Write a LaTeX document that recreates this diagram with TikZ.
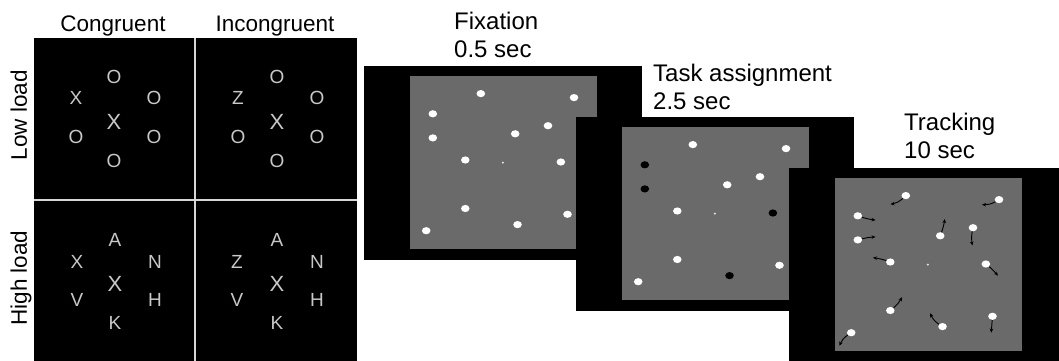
\documentclass[tikz,border=0pt]{standalone}
\usepackage{fontspec}
\setmainfont{Liberation Sans}
\usetikzlibrary{shapes.geometric,arrows.meta}
\definecolor{scrgray}{RGB}{106,106,106}
\definecolor{lettergray}{RGB}{200,200,200}
\definecolor{divgray}{RGB}{215,215,215}
\def\dotlist{1/70.8/17.6, 2/164/21.6, 3/22.8/37.8, 4/22.8/61.9, 5/138/49.7, 6/105.2/57.8, 7/55.3/84, 8/150.9/86, 9/55.3/132.5, 10/157.5/138.3, 11/107.5/148.6, 12/16.2/154.7}
\newcommand\screenbg[2]{%
  \fill[black] (#1-46,#2-10.5) rectangle (#1+231.5,#2+183.5);
  \fill[scrgray] (#1,#2) rectangle (#1+186.5,#2+173);
}
\begin{document}
\begin{tikzpicture}[x=1pt,y=-1pt,
  lbl/.style={font=\fontsize{22.5}{26}\selectfont, inner sep=0, anchor=base},
  ttl/.style={font=\fontsize{24}{27.5}\selectfont, inner sep=0, anchor=base west, align=left},
  ltr/.style={text=lettergray, font=\fontsize{19}{19}\selectfont, inner sep=0},
  ctr/.style={text=lettergray, font=\fontsize{22}{22}\selectfont, inner sep=0},
  wdot/.style={ellipse, fill=white, minimum width=8.6pt, minimum height=7.2pt, inner sep=0},
  bdot/.style={wdot, fill=black},
  fixdot/.style={circle, fill=white!80!gray, minimum size=2.2pt, inner sep=0},
  mv/.style={-{Stealth[length=4pt,width=3.6pt]}, line width=0.9pt, black},
]
\useasboundingbox (0,0) rectangle (1059,361);

% ---------- left panel ----------
\fill[black] (34,38) rectangle (357,361);
\draw[divgray, line width=2pt] (195,38) -- (195,361);
\draw[divgray, line width=2pt] (34,200) -- (357,200);

\node[lbl] (cong) at (113,32) {Congruent};
\node[lbl] (incong) at (275,32) {Incongruent};
\node[lbl, rotate=90] (low) at (27,115) {Low load};
\node[lbl, rotate=90] (high) at (27,278) {High load};

% low load, congruent
\node[ltr] (lc1) at (114,77) {O};
\node[ltr] (lc2) at (76,98) {X};
\node[ltr] (lc3) at (154,98) {O};
\node[ctr] (lc4) at (114,122) {X};
\node[ltr] (lc5) at (76,137) {O};
\node[ltr] (lc6) at (154,137) {O};
\node[ltr] (lc7) at (114,161) {O};
% low load, incongruent
\node[ltr] (li1) at (277,77) {O};
\node[ltr] (li2) at (238,98) {Z};
\node[ltr] (li3) at (317,98) {O};
\node[ctr] (li4) at (277,122) {X};
\node[ltr] (li5) at (238,137) {O};
\node[ltr] (li6) at (317,137) {O};
\node[ltr] (li7) at (277,161) {O};
% high load, congruent
\node[ltr] (hc1) at (115,240) {A};
\node[ltr] (hc2) at (77,262) {X};
\node[ltr] (hc3) at (155,262) {N};
\node[ctr] (hc4) at (115,284) {X};
\node[ltr] (hc5) at (77,300) {V};
\node[ltr] (hc6) at (155,300) {H};
\node[ltr] (hc7) at (115,323) {K};
% high load, incongruent
\node[ltr] (hi1) at (277,240) {A};
\node[ltr] (hi2) at (237,262) {Z};
\node[ltr] (hi3) at (317,262) {N};
\node[ctr] (hi4) at (277,284) {X};
\node[ltr] (hi5) at (237,300) {V};
\node[ltr] (hi6) at (317,300) {H};
\node[ltr] (hi7) at (277,323) {K};

% ---------- screen 1: fixation ----------
\node[ttl] (t1) at (454,57) {Fixation\\0.5 sec};
\screenbg{410}{76}
\foreach \i/\dx/\dy in \dotlist {\node[wdot] (sa\i) at (410+\dx,76+\dy) {};}
\node[fixdot] (fa) at (410+92.8,76+86.6) {};

% ---------- screen 2: task assignment ----------
\node[ttl] (t2) at (653,109) {Task assignment\\2.5 sec};
\screenbg{622}{127}
\foreach \i/\dx/\dy/\s in {1/70.8/17.6/wdot, 2/164/21.6/wdot, 3/22.8/37.8/bdot, 4/22.8/61.9/bdot, 5/138/49.7/wdot, 6/105.2/57.8/wdot, 7/55.3/84/wdot, 8/150.9/86/bdot, 9/55.3/132.5/wdot, 10/157.5/138.3/wdot, 11/107.5/148.6/bdot, 12/16.2/154.7/wdot}
  {\node[style=\s] (sb\i) at (622+\dx,127+\dy) {};}
\node[fixdot] (fb) at (622+92.8,127+86.6) {};

% ---------- screen 3: tracking ----------
\node[ttl] (t3) at (904,158) {Tracking\\10 sec};
\begin{scope}
\clip (0,0) rectangle (1059,361);
\screenbg{835}{178}
\foreach \i/\dx/\dy in \dotlist {\node[wdot] (sc\i) at (835+\dx,178+\dy) {};}
\node[fixdot] (fc) at (835+92.8,178+86.6) {};
\foreach \i/\dx/\dy/\b in {1/-15.3/8.6/15, 2/-17/5/15, 3/17.7/4.3/-5, 4/17.7/-3/5, 5/-0.6/17.7/-10, 6/4.6/-16.7/-5, 7/-17.3/-4.3/-5, 8/12/11.7/5, 9/11.7/-13.4/-10, 10/-1.3/16.3/0, 11/-12.3/-13.3/15, 12/-11.7/13/-15}
  {\coordinate (tip\i) at ([shift={(\dx,\dy)}]sc\i.center);
   \draw[mv] (sc\i) to[bend left=\b] (tip\i);}
\end{scope}
\end{tikzpicture}
\end{document}
